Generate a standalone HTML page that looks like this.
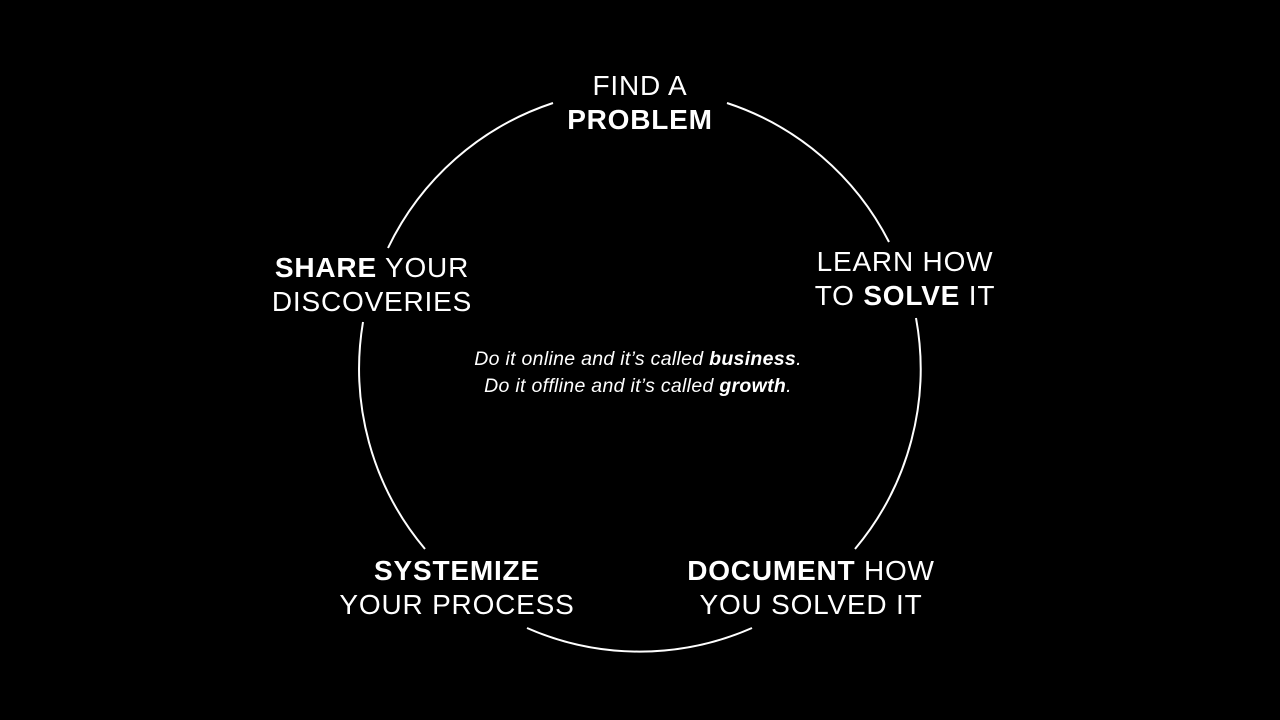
<!DOCTYPE html>
<html><head><meta charset="utf-8"><style>
html,body{margin:0;padding:0;background:#000;width:1280px;height:720px;overflow:hidden}
.t{position:absolute;color:#fff;font-family:"Liberation Sans",sans-serif;font-size:28px;line-height:34px;text-align:center;letter-spacing:0.8px}
b{font-weight:bold}
.q{position:absolute;color:#fff;font-family:"Liberation Sans",sans-serif;font-style:italic;font-size:19.5px;line-height:27px;text-align:center;width:600px;left:338px;top:346px;letter-spacing:0.3px}
</style></head><body>
<svg width="1280" height="720" style="position:absolute;left:0;top:0">
<g fill="none" stroke="#fff" stroke-width="2">
<path d="M727,103 A280,280 0 0 1 889,242"/>
<path d="M916,318 A280,280 0 0 1 855,549"/>
<path d="M752,628 A280,280 0 0 1 527,628"/>
<path d="M425,549 A280,280 0 0 1 363,322"/>
<path d="M388,248 A280,280 0 0 1 553,103"/>
</g></svg>
<div class="t" style="left:490px;width:300px;top:69px">FIND A<br><b>PROBLEM</b></div>
<div class="t" style="left:755px;width:300px;top:245px">LEARN HOW<br>TO <b>SOLVE</b> IT</div>
<div class="t" style="left:222px;width:300px;top:251px"><b>SHARE</b> YOUR<br>DISCOVERIES</div>
<div class="t" style="left:307px;width:300px;top:554px"><b>SYSTEMIZE</b><br>YOUR PROCESS</div>
<div class="t" style="left:661px;width:300px;top:554px"><b>DOCUMENT</b> HOW<br>YOU SOLVED IT</div>
<div class="q">Do it online and it’s called <b>business</b>.<br>Do it offline and it’s called <b>growth</b>.</div>
</body></html>
